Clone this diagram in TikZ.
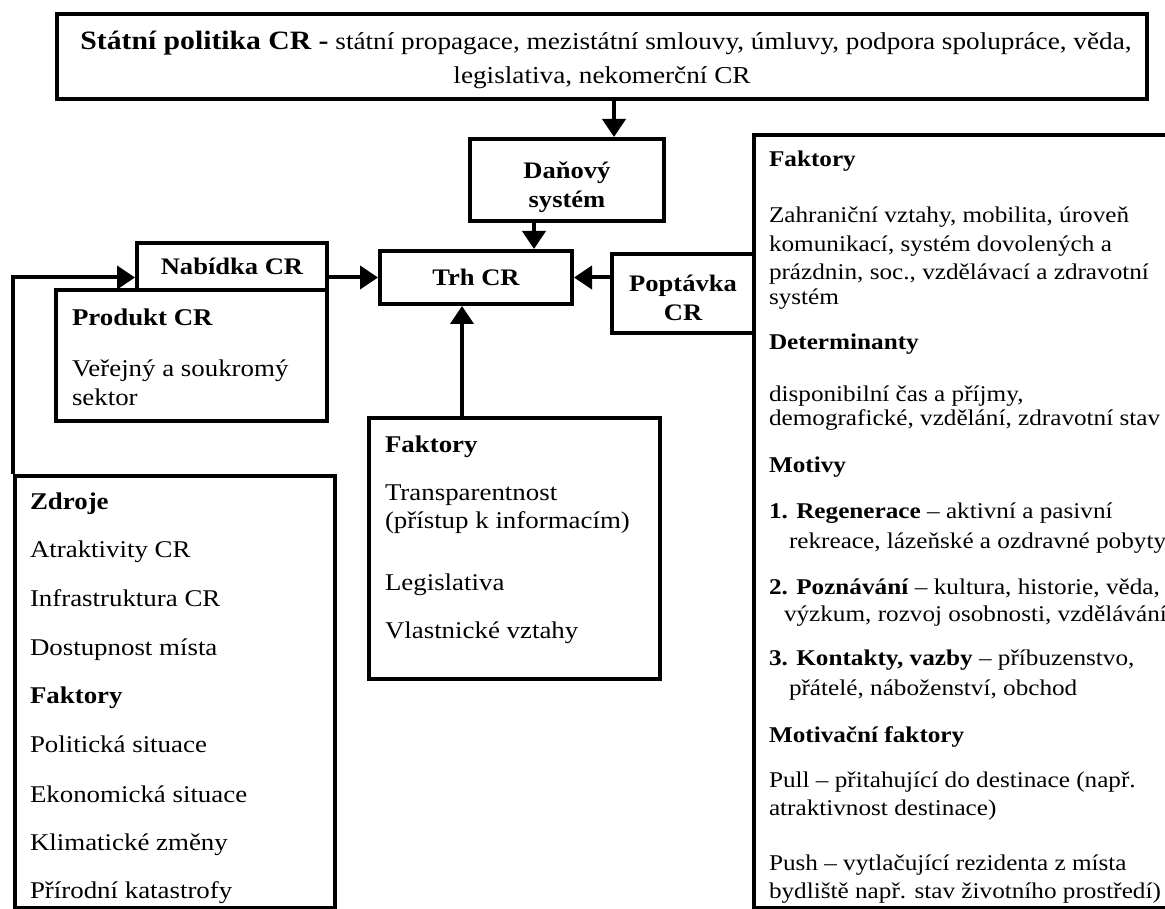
\documentclass[tikz,border=0pt]{standalone}
\usepackage{fontspec}
\setmainfont[FakeStretch=1.12]{Liberation Serif}
\usetikzlibrary{arrows.meta,positioning}
\newcommand{\boxFont}{\fontsize{23.7}{29}\selectfont\bfseries}
\newcommand{\leftFont}{\fontsize{24}{28}\selectfont}
\newcommand{\rightFont}{\fontsize{22.5}{28}\selectfont}
\newcommand{\topFont}{\fontsize{24.3}{30}\selectfont}
\newcommand{\boxLine}{4pt}

\begin{document}
\begin{tikzpicture}[x=1pt, y=-1pt, line width=\boxLine,
		box/.style={draw, anchor=north west, inner sep=0pt, align=center, font=\boxFont},
		boxtxt/.style={inner sep=0pt, align=center, font=\boxFont},
		ltxt/.style={anchor=base west, inner sep=0pt, font=\leftFont},
		rtxt/.style={anchor=base west, inner sep=0pt, font=\rightFont},
		arr/.style={-{Triangle[width=23pt,length=18pt]}}]
		\useasboundingbox (0,0) rectangle (1165,909);
		%boxes
		\node[box, minimum width=1090pt, minimum height=85pt] (Politika) at (55,12) {};
		\node[box, minimum width=194pt, minimum height=82pt] (Dan) at (468,137) {};
		\node[boxtxt] (DanText) at ([yshift=-7pt]Dan.center) {Daňový\\systém};
		\node[box, minimum width=192pt, minimum height=53pt] (Trh) at (378,249) {Trh CR};
		\node[box, minimum width=190pt, minimum height=47pt] (Nabidka) at (135,241) {Nabídka CR};
		\node[box, minimum width=142pt, minimum height=79pt] (Poptavka) at (610,252) {};
		\node[boxtxt] (PoptavkaText) at ([yshift=-4pt]Poptavka.center) {Poptávka\\CR};
		\node[box, minimum width=271pt, minimum height=131pt] (Produkt) at (54,288) {};
		\node[box, minimum width=320pt, minimum height=432pt] (Zdroje) at (13,474) {};
		\node[box, minimum width=291pt, minimum height=261pt] (FaktoryTrh) at (367,416) {};
		\node[box, minimum width=440pt, minimum height=773pt] (FaktoryPoptavka) at (752,133) {};

		%Politika
		\node[anchor=base, inner sep=0pt, font=\topFont] (PolitikaA) at (606,50)
			{{\fontsize{26.5}{30}\selectfont\bfseries Státní politika CR -} státní propagace, mezistátní smlouvy, úmluvy, podpora spolupráce, věda,};
		\node[anchor=base, inner sep=0pt, font=\topFont] (PolitikaB) at (602,84) {legislativa, nekomerční CR};

		%Produkt
		\node[ltxt] (ProduktA) at (70,326) {\textbf{Produkt CR}};
		\node[ltxt] (ProduktB) at (70,377) {Veřejný a soukromý};
		\node[ltxt] (ProduktC) at (70,405) {sektor};

		%Zdroje
		\node[ltxt] (ZdrojeA) at (28,509) {\textbf{Zdroje}};
		\node[ltxt] (ZdrojeB) at (28,557) {Atraktivity CR};
		\node[ltxt] (ZdrojeC) at (28,606) {Infrastruktura CR};
		\node[ltxt] (ZdrojeD) at (28,655) {Dostupnost místa};
		\node[ltxt] (ZdrojeE) at (28,703) {\textbf{Faktory}};
		\node[ltxt] (ZdrojeF) at (28,752) {Politická situace};
		\node[ltxt] (ZdrojeG) at (28,802) {Ekonomická situace};
		\node[ltxt] (ZdrojeH) at (28,850) {Klimatické změny};
		\node[ltxt] (ZdrojeI) at (28,898) {Přírodní katastrofy};

		%Faktory trhu
		\node[ltxt] (TrhA) at (383,452) {\textbf{Faktory}};
		\node[ltxt] (TrhB) at (383,500) {Transparentnost};
		\node[ltxt] (TrhC) at (383,528) {(přístup k informacím)};
		\node[ltxt] (TrhD) at (383,590) {Legislativa};
		\node[ltxt] (TrhE) at (383,638) {Vlastnické vztahy};

		%Faktory poptavky
		\node[rtxt] (PoptA) at (767,167) {\textbf{Faktory}};
		\node[rtxt] (PoptB) at (767,223) {Zahraniční vztahy, mobilita, úroveň};
		\node[rtxt] (PoptC) at (767,252) {komunikací, systém dovolených a};
		\node[rtxt] (PoptD) at (767,280) {prázdnin, soc., vzdělávací a zdravotní};
		\node[rtxt] (PoptE) at (767,305) {systém};
		\node[rtxt] (PoptF) at (767,350) {\textbf{Determinanty}};
		\node[rtxt] (PoptG) at (767,401) {disponibilní čas a příjmy,};
		\node[rtxt] (PoptH) at (767,425) {demografické, vzdělání, zdravotní stav};
		\node[rtxt] (PoptI) at (767,472) {\textbf{Motivy}};
		\node[rtxt] (PoptJ) at (767,518) {\textbf{1. Regenerace} – aktivní a pasivní};
		\node[rtxt] (PoptK) at (787,548) {rekreace, lázeňské a ozdravné pobyty};
		\node[rtxt] (PoptL) at (767,594) {\textbf{2. Poznávání} – kultura, historie, věda,};
		\node[rtxt] (PoptM) at (782,621) {výzkum, rozvoj osobnosti, vzdělávání};
		\node[rtxt] (PoptN) at (767,665) {\textbf{3. Kontakty, vazby} – příbuzenstvo,};
		\node[rtxt] (PoptO) at (787,695) {přátelé, náboženství, obchod};
		\node[rtxt] (PoptP) at (767,742) {\textbf{Motivační faktory}};
		\node[rtxt] (PoptQ) at (767,787) {Pull – přitahující do destinace (např.};
		\node[rtxt] (PoptR) at (767,815) {atraktivnost destinace)};
		\node[rtxt] (PoptS) at (767,870) {Push – vytlačující rezidenta z místa};
		\node[rtxt] (PoptT) at (767,898) {bydliště např. stav životního prostředí)};

		%arrows
		\draw[arr] ([xshift=47pt]Dan.north |- Politika.south) -- ([xshift=47pt]Dan.north);
		\draw[arr] ([xshift=-33pt]Dan.south) -- ([xshift=-33pt]Dan.south |- Trh.north);
		\draw[arr] (Nabidka.east |- Trh.west) -- (Trh.west);
		\draw[arr] (Poptavka.west |- Trh.east) -- (Trh.east);
		\draw[arr] ([xshift=-14pt]Trh.south |- FaktoryTrh.north) -- ([xshift=-14pt]Trh.south);
		\draw[arr] (Zdroje.north west) -- (Zdroje.north west |- Trh.west) -- (Nabidka.west |- Trh.west);
\end{tikzpicture}
\end{document}
